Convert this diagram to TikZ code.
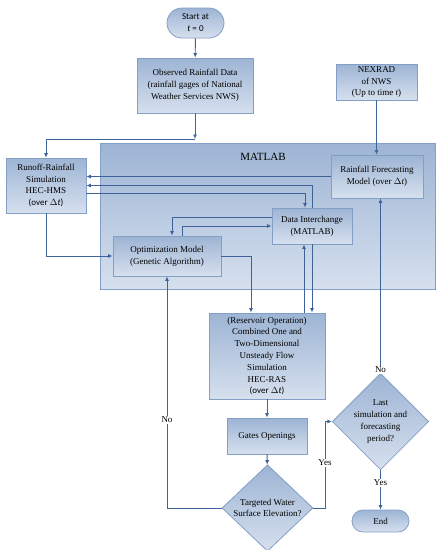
\documentclass[tikz,border=0pt]{standalone}
\usepackage{fontspec}
\setmainfont{Liberation Serif}
\newfontfamily\calfont{Carlito}
\usetikzlibrary{shapes.geometric,shapes.misc,arrows.meta,calc}
\definecolor{boxtop}{HTML}{9DB4D4}
\definecolor{boxbot}{HTML}{D6E0EE}
\definecolor{boxline}{HTML}{849FC6}
\definecolor{linecol}{HTML}{3D6399}
\tikzset{
  box/.style={rectangle,draw=boxline,line width=0.8pt,top color=boxtop,bottom color=boxbot,
    inner sep=0pt,align=center,font=\fontsize{9}{11.8}\selectfont},
  term/.style={rounded rectangle,draw=boxline,line width=0.8pt,top color=boxtop,bottom color=boxbot,
    inner sep=0pt,align=center,font=\fontsize{9}{11.8}\selectfont},
  dia/.style={diamond,draw=boxline,line width=0.8pt,top color=boxtop,bottom color=boxbot,
    inner sep=0pt,align=center,font=\fontsize{9}{11.8}\selectfont},
  arr/.style={draw=linecol,line width=0.9pt,-{Latex[length=4.5pt,width=4pt]}},
  ln/.style={draw=linecol,line width=0.9pt},
  lab/.style={fill=white,inner sep=1.5pt,font=\fontsize{9}{11}\selectfont}
}
\begin{document}
\begin{tikzpicture}[x=1pt,y=-1pt]
\useasboundingbox (0,0) rectangle (441,550);
% big MATLAB container
\node[box,minimum width=335pt,minimum height=146pt] (matlab) at (267.5,216) {};
\node[font=\fontsize{11}{13}\selectfont] (mlab) at (263,157) {MATLAB};
% nodes
\node[term,minimum width=57pt,minimum height=30pt] (start) at (195.5,23) {{\calfont Start at}\\{\calfont\itshape t}{\calfont\ = 0}};
\node[box,minimum width=116pt,minimum height=55pt] (obs) at (195,85.5) {Observed Rainfall Data\\(rainfall gages of National\\Weather Services NWS)};
\node[box,minimum width=81pt,minimum height=36pt] (nex) at (376.5,82) {NEXRAD\\of NWS\\(Up to time \textit{t})};
\node[box,minimum width=80pt,minimum height=55pt] (runoff) at (46,185.5) {Runoff-Rainfall\\Simulation\\HEC-HMS\\{\calfont (over $\Delta$\textit{t})}};
\node[box,minimum width=92pt,minimum height=43pt] (rfm) at (377,176.5) {Rainfall Forecasting\\Model (over $\Delta$\textit{t})};
\node[box,minimum width=80pt,minimum height=36pt] (di) at (312,226) {Data Interchange\\(MATLAB)};
\node[box,minimum width=108pt,minimum height=40pt] (opt) at (167,256) {Optimization Model\\(Genetic Algorithm)};
\node[box,minimum width=116pt,minimum height=86pt] (res) at (267,356) {(Reservoir Operation)\\Combined One and\\Two-Dimensional\\Unsteady Flow\\Simulation\\HEC-RAS\\{\calfont (over $\Delta$\textit{t})}};
\node[box,minimum width=80pt,minimum height=36pt] (gates) at (267,436) {Gates Openings};
\node[dia,minimum width=91pt,minimum height=68pt] (tgt) at (267.5,508) {Targeted Water\\Surface Elevation?};
\node[dia,minimum width=83pt,minimum height=69pt] (last) at (380.5,421.5) {Last\\simulation and\\forecasting\\period?};
\node[term,minimum width=57pt,minimum height=22pt] (end) at (380.5,521) {End};
% connectors
\coordinate (j) at (195,139);
\draw[arr] (start) -- (obs);
\draw[arr] (obs.south) -- (j);
\draw[arr] (j) -| (runoff.north);
\draw[arr] (nex.south) -- (nex.south |- rfm.north);
\draw[arr] (rfm.west) -- (rfm.west -| runoff.east);
\draw[arr] (di.north) |- (runoff.east);
\draw[arr] ($(runoff.east)+(0,7.5)$) -| ($(di.north)+(-7,0)$);
\draw[arr] ($(di.west)+(0,-9)$) -| ($(opt.north)+(5,0)$);
\draw[arr] ($(opt.north)+(15,0)$) |- (di.west);
\draw[arr] (runoff.south) |- (opt.west);
\draw[arr] (opt.east) -| ($(res.north)+(-16,0)$);
\draw[arr] ($(res.north)+(37,0)$) -- ($(di.south)+(-8,0)$);
\draw[arr] (di.south) -- (di.south |- res.north);
\draw[arr] (res) -- (gates);
\draw[arr] (gates) -- (tgt);
\draw[arr] (tgt.west) -| (opt.south);
\node[lab] (no1) at (167,420) {No};
\coordinate (yx) at ($(tgt.east)+(12,0)$);
\draw[arr] (tgt.east) -- (yx) |- (last.west);
\node[lab] (yes1) at (325,463) {Yes};
\draw[arr] (last.north) -- (last.north |- rfm.south);
\node[lab] (no2) at (380.5,370) {No};
\draw[arr] (last.south) -- (end.north);
\node[lab] (yes2) at (380.5,483) {Yes};
\end{tikzpicture}
\end{document}
